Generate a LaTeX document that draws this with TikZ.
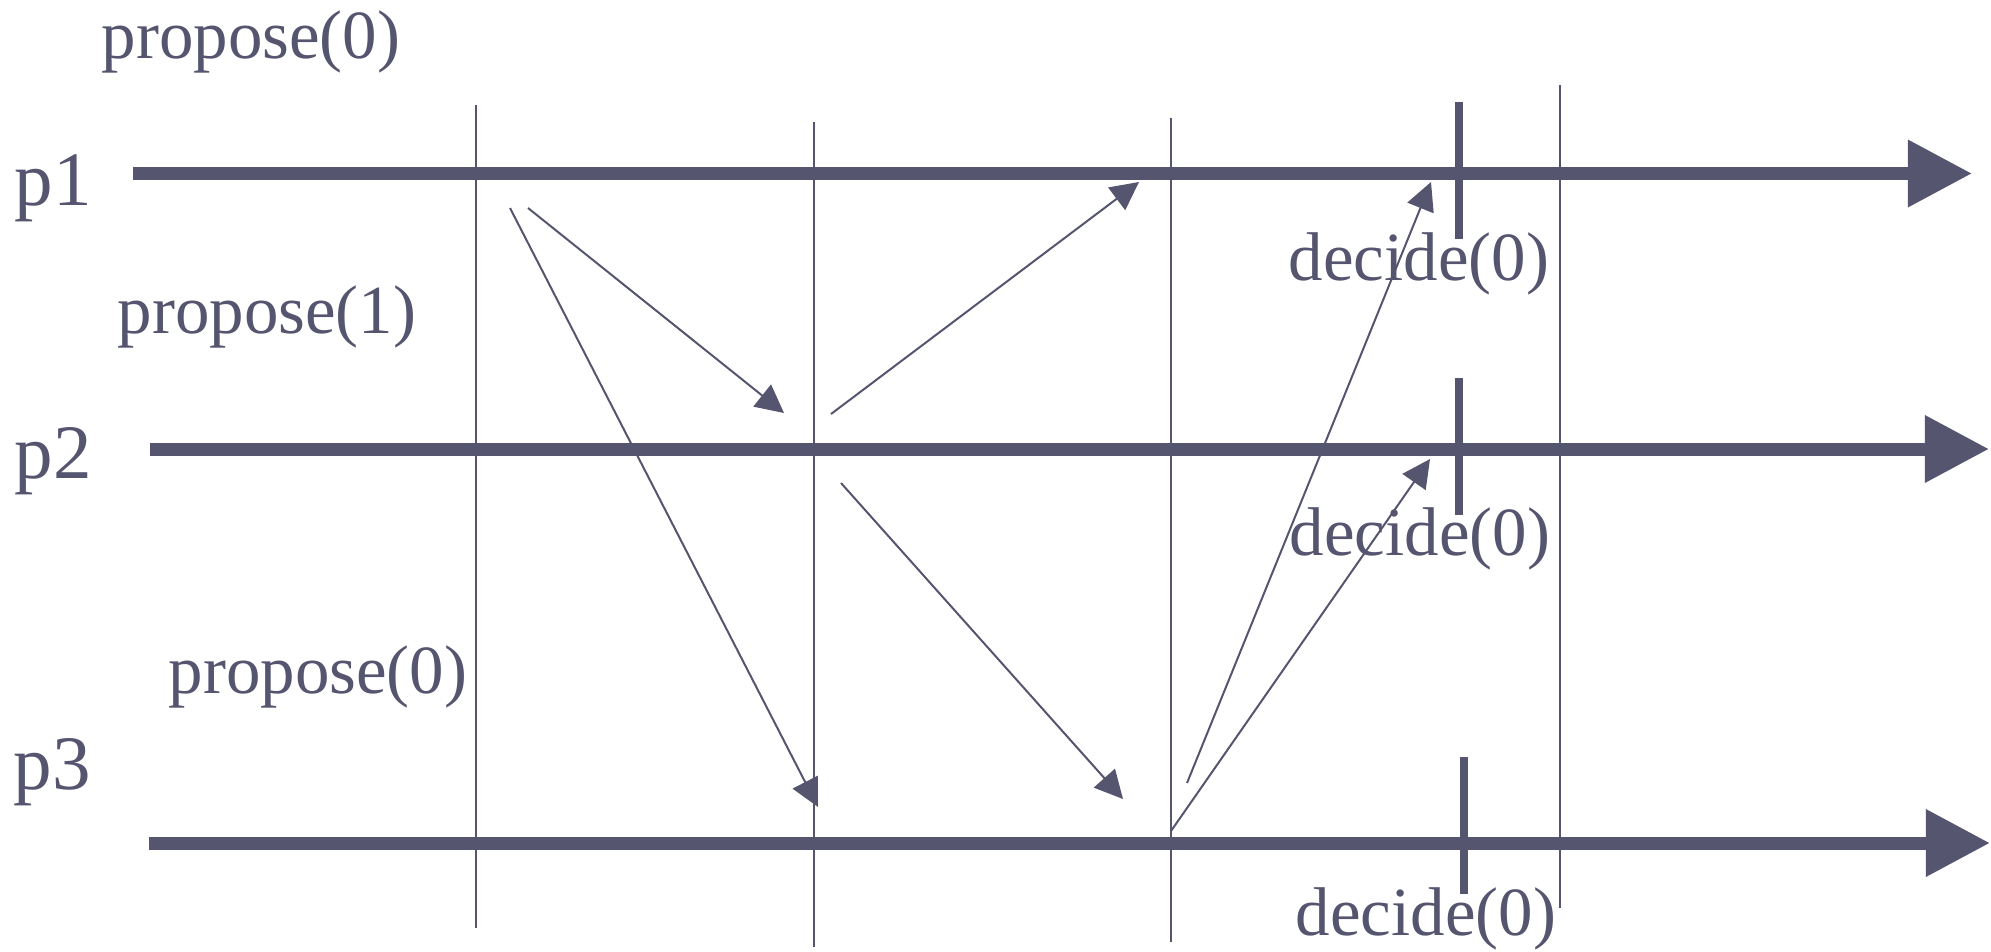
\documentclass[tikz,border=0pt]{standalone}
\usepackage{fontspec}
\setmainfont{Liberation Serif}
\usepackage{tikz}
\usetikzlibrary{arrows.meta}
\definecolor{ev-ink}{RGB}{85, 85, 112}

\begin{document}
\begin{tikzpicture}[x=0.01cm, y=-0.01cm,
    proc/.style={line width=0.13cm, color=ev-ink, -{Triangle[length=0.64cm, width=0.64cm]}},
    msg/.style={line width=0.02cm, color=ev-ink, -{Triangle[length=0.28cm, width=0.28cm]}},
    cut/.style={line width=0.02cm, color=ev-ink},
    decmark/.style={line width=0.08cm, color=ev-ink},
    plbl/.style={anchor=base west, inner sep=0pt, text=ev-ink, font=\fontsize{21.9}{26}\selectfont},
    ev/.style={anchor=base west, inner sep=0pt, text=ev-ink, font=\fontsize{19.6}{24}\selectfont}]
    \useasboundingbox (0,0) rectangle (1991,951);

    % processes
    \node[plbl] (lp1) at (14,205) {p1};
    \node[plbl] (lp2) at (14,478) {p2};
    \node[plbl] (lp3) at (13,789) {p3};
    \coordinate (p1a) at (133,173.5);
    \coordinate (p1b) at (1972,173.5);
    \coordinate (p2a) at (150,449);
    \coordinate (p2b) at (1989,449);
    \coordinate (p3a) at (149,843);
    \coordinate (p3b) at (1990,843);
    \draw[proc] (p1a) -- (p1b);
    \draw[proc] (p2a) -- (p2b);
    \draw[proc] (p3a) -- (p3b);

    % cuts
    \coordinate (c1t) at (476,105);  \coordinate (c1b) at (476,928);
    \coordinate (c2t) at (814,122);  \coordinate (c2b) at (814,947);
    \coordinate (c3t) at (1171,118); \coordinate (c3b) at (1171,942);
    \coordinate (c4t) at (1560,85);  \coordinate (c4b) at (1560,908);
    \draw[cut] (c1t) -- (c1b);
    \draw[cut] (c2t) -- (c2b);
    \draw[cut] (c3t) -- (c3b);
    \draw[cut] (c4t) -- (c4b);

    % proposals
    \node[ev] (prop1) at (101,58) {propose(0)};
    \node[ev] (prop2) at (117,333) {propose(1)};
    \node[ev] (prop3) at (168,693) {propose(0)};

    % messages
    \coordinate (m1a) at (510,208);  \coordinate (m1b) at (818,807);
    \coordinate (m2a) at (528,208);  \coordinate (m2b) at (784,413);
    \coordinate (m3a) at (831,414);  \coordinate (m3b) at (1139,182);
    \coordinate (m4a) at (841,483);  \coordinate (m4b) at (1123,799);
    \coordinate (m5a) at (1187,783); \coordinate (m5b) at (1431,182);
    \coordinate (m6a) at (1171,831); \coordinate (m6b) at (1430,459);
    \draw[msg] (m1a) -- (m1b);
    \draw[msg] (m2a) -- (m2b);
    \draw[msg] (m3a) -- (m3b);
    \draw[msg] (m4a) -- (m4b);
    \draw[msg] (m5a) -- (m5b);
    \draw[msg] (m6a) -- (m6b);

    % decisions
    \coordinate (d1t) at (1459,102); \coordinate (d1b) at (1459,239);
    \coordinate (d2t) at (1459,378); \coordinate (d2b) at (1459,515);
    \coordinate (d3t) at (1464,757); \coordinate (d3b) at (1464,894);
    \draw[decmark] (d1t) -- (d1b);
    \draw[decmark] (d2t) -- (d2b);
    \draw[decmark] (d3t) -- (d3b);
    \node[ev] (dec1) at (1288,280) {decide(0)};
    \node[ev] (dec2) at (1289,555) {decide(0)};
    \node[ev] (dec3) at (1295,935) {decide(0)};
\end{tikzpicture}
\end{document}
